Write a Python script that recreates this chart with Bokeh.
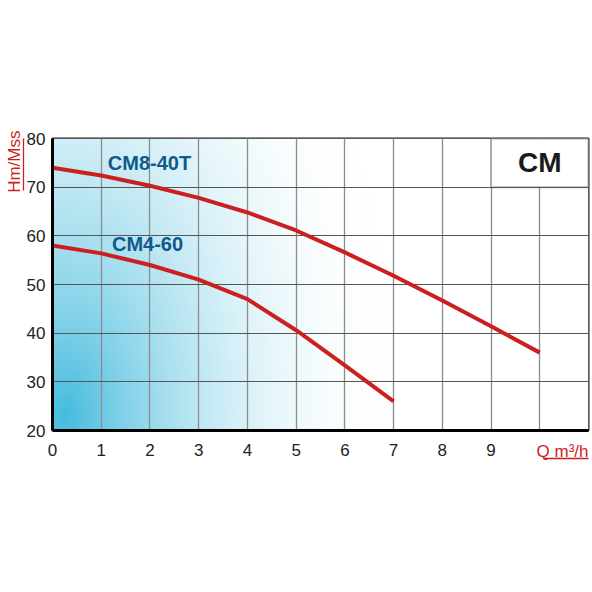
import numpy as np
from bokeh.embed import file_html
from bokeh.models import BoxAnnotation, FixedTicker, Label, LinearAxis, Title
from bokeh.plotting import figure
from bokeh.resources import INLINE

# flow (m3/h) and head (m)
q_cm8 = [0, 1, 2, 3, 4, 5, 6, 7, 8, 9, 10]
h_cm8 = [74.0, 72.4, 70.3, 67.8, 64.8, 61.1, 56.6, 51.8, 46.7, 41.4, 36.0]

q_cm4 = [0, 1, 2, 3, 4, 5, 6, 7]
h_cm4 = [58.0, 56.4, 54.0, 51.0, 47.0, 40.6, 33.4, 26.0]

curve_names = ["CM8-40T", "CM4-60"]
name_x = [1.99, 1.95]
name_y = [74.9, 58.4]

x_ticks = [0, 1, 2, 3, 4, 5, 6, 7, 8, 9]
y_ticks = [20, 30, 40, 50, 60, 70, 80]

FONT = "Liberation Sans"
RED = "#cc1f1f"
BLUE = "#0e5a8c"

p = figure(
    frame_width=536,
    frame_height=292,
    min_border_left=52,
    min_border_right=4,
    min_border_top=138,
    min_border_bottom=50,
    x_range=(0, 11),
    y_range=(20, 80),
    output_backend="svg",
    toolbar_location=None,
    background_fill_color="white",
)

# soft blue glow from the lower left corner
nx, ny = 536, 292
px = np.arange(nx)[None, :] - 12.0
py = np.arange(ny)[:, None] - 15.0
t = np.sqrt((px / 330.0) ** 2 + (py / 560.0) ** 2)
s = np.clip(1.0 - t, 0, 1) ** 2
img = np.empty((ny, nx), dtype=np.uint32)
view = img.view(dtype=np.uint8).reshape((ny, nx, 4))
view[:, :, 0] = (255 - s * (255 - 70)).astype(np.uint8)
view[:, :, 1] = (255 - s * (255 - 188)).astype(np.uint8)
view[:, :, 2] = (255 - s * (255 - 222)).astype(np.uint8)
view[:, :, 3] = 255
p.image_rgba(image=[img], x=0, y=20, dw=11, dh=60, level="image")

p.xgrid.ticker = FixedTicker(ticks=list(range(12)))
p.ygrid.ticker = FixedTicker(ticks=y_ticks)
p.xgrid.grid_line_color = "#8c8c8c"
p.xgrid.grid_line_width = 1.3
p.ygrid.grid_line_color = "#555555"
p.ygrid.grid_line_width = 1
p.grid.level = "underlay"

p.xaxis.ticker = FixedTicker(ticks=x_ticks)
p.yaxis.ticker = FixedTicker(ticks=y_ticks)
for ax in (p.xaxis, p.yaxis):
    ax.axis_line_color = "black"
    ax.axis_line_width = 3
    ax.major_tick_line_color = None
    ax.minor_tick_line_color = None
    ax.major_tick_out = 0
    ax.major_tick_in = 0
    ax.major_label_text_font = FONT
    ax.major_label_text_font_size = "17px"
    ax.major_label_text_color = "#222222"
p.xaxis.major_label_standoff = 13
p.yaxis.major_label_standoff = 7

p.outline_line_color = "#222222"
p.outline_line_width = 2

p.line(q_cm8, h_cm8, line_color=RED, line_width=4)
p.line(q_cm4, h_cm4, line_color=RED, line_width=4)

for name, x, y in zip(curve_names, name_x, name_y):
    p.add_layout(Label(x=x, y=y, text=name, text_align="center",
                       text_baseline="middle", text_font=FONT,
                       text_font_style="bold", text_font_size="20px",
                       text_color=BLUE))

# series badge in the top right cell
p.add_layout(BoxAnnotation(left=9, right=11, bottom=70, top=80,
                           fill_color="white", fill_alpha=1,
                           line_color="black", line_width=2))
p.add_layout(Label(x=10, y=75, text="CM", text_align="center",
                   text_baseline="middle", text_font=FONT,
                   text_font_style="bold", text_font_size="28px",
                   text_color="#1a1a1a"))


def underline(bounds):
    # bare axis used only as a red rule under an axis title
    u = LinearAxis(ticker=FixedTicker(ticks=[]), bounds=bounds)
    u.axis_line_color = RED
    u.axis_line_width = 1.3
    u.major_tick_line_color = None
    u.minor_tick_line_color = None
    u.major_tick_out = 0
    u.major_label_standoff = 0
    return u


# axis titles, red and underlined
p.add_layout(underline((69.4, 81.6)), "left")
p.add_layout(Title(text="Hm/Mss", align="right", text_font=FONT,
                   text_font_size="17px", text_font_style="normal",
                   text_color=RED, standoff=0, offset=-8), "left")
p.add_layout(underline((10.07, 11.0)), "below")
p.add_layout(Title(text="Q m³/h", align="right", vertical_align="top",
                   text_font=FONT, text_font_size="17px",
                   text_font_style="normal", text_color=RED,
                   standoff=-33), "below")

open("out.html", "w").write(file_html(p, INLINE))
